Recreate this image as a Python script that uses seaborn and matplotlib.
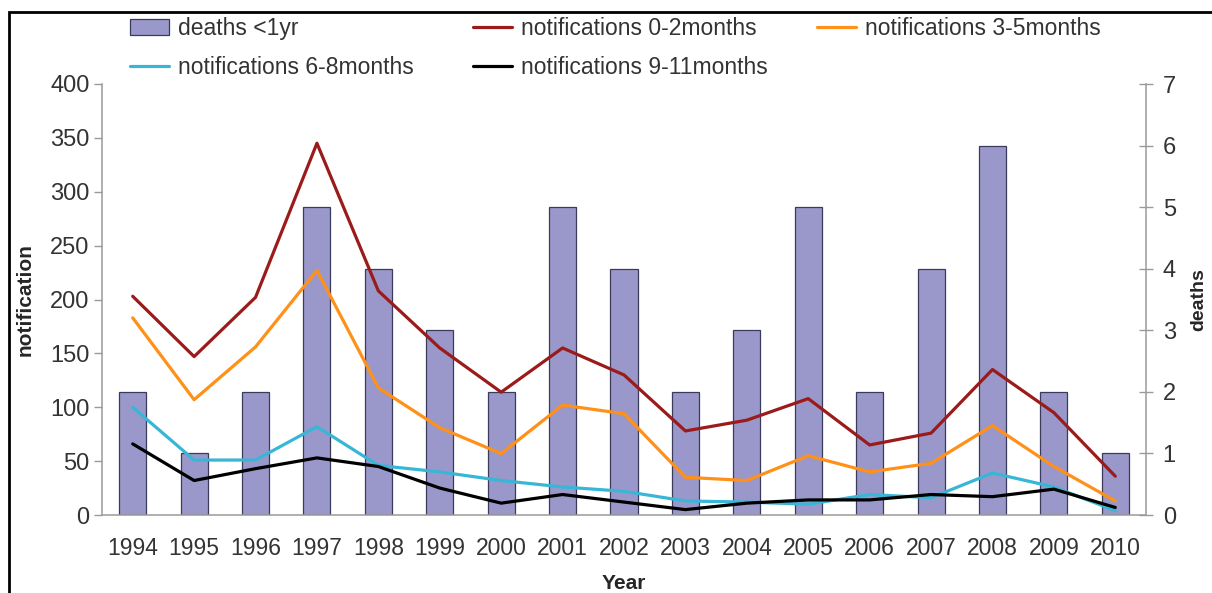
import numpy as np
import pandas as pd
import seaborn as sns
import matplotlib.pyplot as plt
from matplotlib.patches import Rectangle
from matplotlib.lines import Line2D
from matplotlib.ticker import FixedLocator

# deaths (bars, right axis) and notifications by age band (lines, left axis)

years = [str(y) for y in range(1994, 2011)]
deaths = [2, 1, 2, 5, 4, 3, 2, 5, 4, 2, 3, 5, 2, 4, 6, 2, 1]
notif_0_2 = [203, 147, 202, 345, 208, 155, 114, 155, 130, 78, 88, 108, 65, 76, 135, 95, 36]
notif_3_5 = [183, 107, 156, 227, 118, 81, 57, 102, 94, 35, 32, 55, 40, 48, 83, 45, 13]
notif_6_8 = [100, 51, 51, 82, 46, 40, 32, 26, 22, 13, 12, 10, 19, 16, 39, 26, 4]
notif_9_11 = [66, 32, 43, 53, 45, 25, 11, 19, 12, 5, 11, 14, 14, 19, 17, 24, 7]

series = {
    'notifications 0-2months': (notif_0_2, '#9B1B1B'),
    'notifications 3-5months': (notif_3_5, '#FF9018'),
    'notifications 6-8months': (notif_6_8, '#38B6D6'),
    'notifications 9-11months': (notif_9_11, '#000000'),
}

sns.set_theme(style='white')
plt.rcParams['font.family'] = ['Liberation Sans', 'DejaVu Sans']
plt.rcParams['text.color'] = '#222222'

W, H = 1212, 593
fig = plt.figure(figsize=(W / 100, H / 100), dpi=100)
ax = fig.add_axes([102 / W, 1 - 515 / H, 1044 / W, (515 - 84) / H])
ax2 = ax.twinx()

# bars on the secondary axis, lines drawn above them
df_bar = pd.DataFrame({'year': years, 'deaths': deaths})
sns.barplot(data=df_bar, x='year', y='deaths', ax=ax2, color='#9A98CA',
            saturation=1, width=0.44, edgecolor='#3A3A5A', linewidth=0.9)

xpos = np.arange(len(years))
for name, (vals, col) in series.items():
    sns.lineplot(x=xpos, y=vals, ax=ax, color=col, linewidth=2.3, legend=False)

ax.set_zorder(ax2.get_zorder() + 1)
ax.patch.set_visible(False)

ax.set_xlim(-0.5, len(years) - 0.5)
ax.set_ylim(0, 400)
ax2.set_ylim(0, 7)
ax.set_yticks(range(0, 401, 50))
ax2.set_yticks(range(0, 8))
ax.set_xticks(xpos)
ax.set_xticklabels(years)
ax.xaxis.set_minor_locator(FixedLocator(np.arange(-0.5, len(years), 1)))

for a in (ax, ax2):
    for s in a.spines.values():
        s.set_visible(False)
    a.grid(False)
ax.spines['left'].set_visible(True)
ax.spines['bottom'].set_visible(True)
ax2.spines['right'].set_visible(True)
for s in (ax.spines['left'], ax.spines['bottom'], ax2.spines['right']):
    s.set_color('#9a9a9a')
    s.set_linewidth(1.1)

ax.tick_params(axis='x', which='major', length=0, pad=16, labelsize=16.5, labelcolor='#333333')
ax.tick_params(axis='x', which='minor', length=6, width=1, color='#9a9a9a', direction='out')
ax.tick_params(axis='y', length=6, width=1, color='#9a9a9a', direction='out', pad=3,
               labelsize=17, labelcolor='#333333', left=True)
ax2.tick_params(axis='y', length=10, width=1, color='#9a9a9a', direction='inout', pad=7,
                labelsize=17, labelcolor='#333333', right=True)
ax2.set_xlabel('')

ax.set_xlabel('Year', fontsize=15, fontweight='bold', labelpad=10)
ax.set_ylabel('notification', fontsize=15, fontweight='bold')
ax.yaxis.set_label_coords((35 - 102) / 1044, 0.5)
ax2.set_ylabel('deaths', fontsize=14, fontweight='bold', rotation=90)
ax2.yaxis.set_label_coords((1190 - 102) / 1044, 0.5)

# legend laid out in three columns like the original
bar_h = Rectangle((0, 0), 1, 1, facecolor='#9A98CA', edgecolor='#3A3A5A', linewidth=0.9)
lh = {n: Line2D([], [], color=c, linewidth=2.3) for n, (v, c) in series.items()}
cols = [
    (130, [bar_h, lh['notifications 6-8months']], ['deaths <1yr', 'notifications 6-8months']),
    (473, [lh['notifications 0-2months'], lh['notifications 9-11months']],
     ['notifications 0-2months', 'notifications 9-11months']),
    (817, [lh['notifications 3-5months']], ['notifications 3-5months']),
]
for x0, hs, ls in cols:
    leg = fig.legend(hs, ls, loc='upper left', bbox_to_anchor=(x0 / W, 1 - 17 / H),
                     frameon=False, fontsize=16.5, handlelength=1.7, handletextpad=0.4,
                     labelspacing=0.68, borderpad=0, borderaxespad=0)
    for t in leg.get_texts():
        t.set_color('#333333')

fig.add_artist(Rectangle((9 / W, -0.2), 1.5, 1.2 - 12 / H, transform=fig.transFigure,
                         fill=False, edgecolor='black', linewidth=2))

fig.savefig('out.png', dpi=100)
